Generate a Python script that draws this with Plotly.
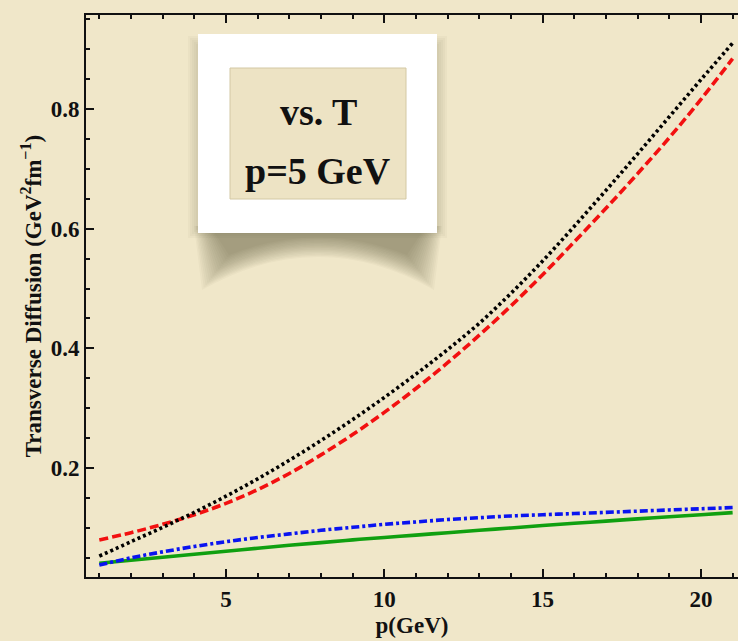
import plotly.graph_objects as go

# ---------------- data ----------------
p_vals = [1, 2, 3, 4, 5, 6, 7, 8, 9, 10, 11, 12, 13, 14, 15, 16, 17, 18, 19, 20, 21]

black_dotted = [0.053, 0.077, 0.101, 0.126, 0.153, 0.182, 0.213, 0.246, 0.281, 0.318,
                0.357, 0.398, 0.442, 0.492, 0.546, 0.604, 0.664, 0.725, 0.787, 0.849, 0.910]
red_dashed = [0.080, 0.092, 0.106, 0.122, 0.141, 0.164, 0.191, 0.222, 0.256, 0.293,
              0.333, 0.376, 0.422, 0.471, 0.523, 0.578, 0.634, 0.692, 0.752, 0.816, 0.884]
blue_dashdot = [0.038, 0.050, 0.060, 0.069, 0.077, 0.084, 0.090, 0.096, 0.101, 0.106,
                0.110, 0.114, 0.117, 0.120, 0.122, 0.124, 0.126, 0.128, 0.130, 0.132, 0.134]
green_solid = [0.041, 0.046, 0.051, 0.056, 0.061, 0.066, 0.071, 0.0755, 0.080, 0.084,
               0.088, 0.092, 0.096, 0.100, 0.104, 0.1077, 0.1114, 0.1151, 0.1186, 0.1221, 0.1256]

x_ticks = [5, 10, 15, 20]
y_ticks = [0.2, 0.4, 0.6, 0.8]
x_title = "p(GeV)"
y_title = "Transverse Diffusion (GeV<sup>2</sup>fm<sup>\u22121</sup>)"
box_lines = ["vs. T", "p=5 GeV"]

# ---------------- figure ----------------
W, H = 738, 641
ML, MR, MT, MB = 86, 0, 15, 64
PW, PH = W - ML - MR, H - MT - MB
BG = "#F0E7C9"
FONT = "Liberation Serif"


def px(x):
    return (x - ML) / PW


def py(y):
    return (H - MB - y) / PH


fig = go.Figure()

series = [
    (green_solid, "#10A010", "solid"),
    (blue_dashdot, "#0A14F0", "8px,3px,3px,3px"),
    (red_dashed, "#F21010", "9px,4px"),
    (black_dotted, "#000000", "3px,3px"),
]
for vals, col, dash in series:
    fig.add_trace(go.Scatter(x=p_vals, y=vals, mode="lines",
                             line=dict(color=col, width=3.6, dash=dash, shape="spline"),
                             showlegend=False, hoverinfo="skip"))

shapes = []
# soft curled shadow under the white box (stacked translucent layers)
N = 16
for i in range(N):
    s = i * 1.8
    path = (f"M {px(194 + s * 0.6)},{py(226)} "
            f"L {px(202 + s)},{py(290 - s * 1.3)} "
            f"Q {px(318)},{py(224 - s * 0.15)} {px(434 - s)},{py(290 - s * 1.3)} "
            f"L {px(442 - s * 0.6)},{py(226)} Z")
    shapes.append(dict(type="path", xref="paper", yref="paper", path=path,
                       fillcolor="rgba(70,60,40,0.03)", line=dict(width=0), layer="above"))
# side shadow around the box
for i in range(5):
    s = i * 2.0
    shapes.append(dict(type="rect", xref="paper", yref="paper",
                       x0=px(188 + s), x1=px(447 - s), y0=py(238 - s), y1=py(36 + s),
                       fillcolor="rgba(70,60,40,0.03)", line=dict(width=0), layer="above"))
# white card
shapes.append(dict(type="rect", xref="paper", yref="paper",
                   x0=px(198), x1=px(437), y0=py(233), y1=py(34),
                   fillcolor="#FFFFFF", line=dict(width=0), layer="above"))
# inner parchment panel
shapes.append(dict(type="rect", xref="paper", yref="paper",
                   x0=px(230), x1=px(406), y0=py(199), y1=py(68),
                   fillcolor="#EDE3C4", line=dict(width=1, color="#D3C8A4"), layer="above"))

annotations = [
    dict(text=box_lines[0], xref="paper", yref="paper", x=px(318), y=py(112),
         xanchor="center", yanchor="middle", showarrow=False,
         font=dict(family=FONT, size=38, color="#111111", weight="bold")),
    dict(text=box_lines[1], xref="paper", yref="paper", x=px(318), y=py(171),
         xanchor="center", yanchor="middle", showarrow=False,
         font=dict(family=FONT, size=38, color="#111111", weight="bold")),
]

axis_common = dict(
    showgrid=False, zeroline=False, showline=True, linecolor="#111111", linewidth=2,
    ticks="inside", ticklen=8, tickwidth=1.5, tickcolor="#111111",
    tickfont=dict(family=FONT, size=23, color="#111111", weight="bold"),
)

fig.update_layout(
    width=W, height=H,
    margin=dict(l=ML, r=MR, t=MT, b=MB, pad=0),
    paper_bgcolor=BG, plot_bgcolor=BG,
    shapes=shapes, annotations=annotations,
    xaxis=dict(**axis_common, range=[0.58, 21.17], tickvals=x_ticks,
               ticktext=[str(v) for v in x_ticks], mirror="ticks",
               minor=dict(dtick=1, tick0=0, ticks="inside", ticklen=4, tickwidth=1.5,
                          tickcolor="#111111"),
               title=dict(text=x_title, standoff=6,
                          font=dict(family=FONT, size=23, color="#111111", weight="bold"))),
    yaxis=dict(**axis_common, range=[0.018, 0.957], tickvals=y_ticks,
               ticktext=[f"{v:.1f}" for v in y_ticks],
               minor=dict(dtick=0.05, tick0=0, ticks="inside", ticklen=4, tickwidth=1.5,
                          tickcolor="#111111"),
               title=dict(text=y_title, standoff=3,
                          font=dict(family=FONT, size=23, color="#111111", weight="bold"))),
)

fig.write_html("out.html")
